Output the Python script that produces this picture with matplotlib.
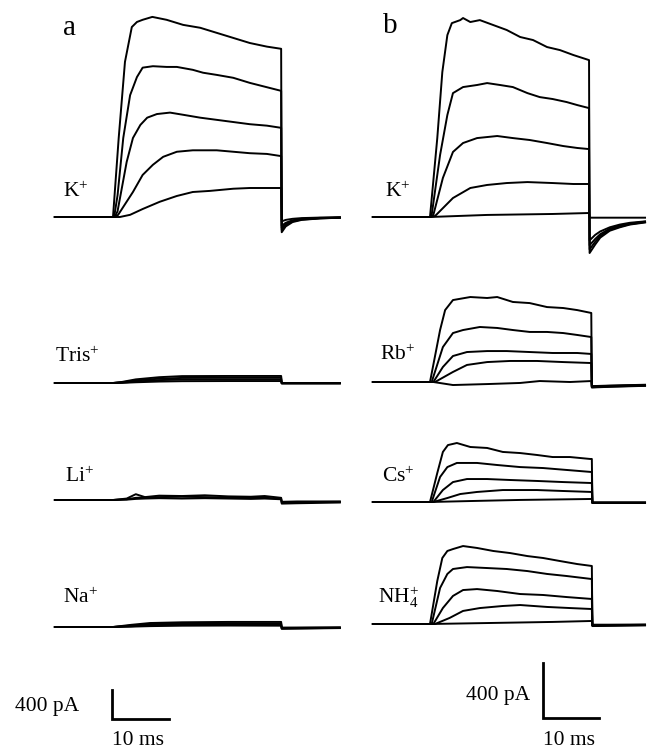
import matplotlib.pyplot as plt

plt.rcParams['font.family'] = ['Liberation Serif', 'DejaVu Serif']
plt.rcParams['mathtext.fontset'] = 'custom'
plt.rcParams['mathtext.rm'] = 'Liberation Serif'
plt.rcParams['mathtext.it'] = 'Liberation Serif:italic'

# ---- data: time (ms, 0 = step onset) and current (pA) ----
# panel a, K+
a_k_t = [
    [-10.2, 0, 1.0, 2.1, 3.3, 4.2, 5.2, 6.9, 9.4, 12.3, 15.3, 18.2, 21.1, 24.0, 27.0, 29.5, 29.6, 30.3, 31.5, 33.1, 36.3, 39.8],
    [-10.2, 0.2, 0.8, 1.8, 3.0, 4.2, 5.2, 7.0, 9.4, 11.2, 14.0, 15.8, 18.2, 21.1, 24.0, 27.0, 29.5, 29.6, 30.3, 31.5, 33.1, 36.3, 39.8],
    [-10.2, 0.3, 0.8, 2.4, 3.5, 4.8, 6.0, 7.7, 10.0, 12.3, 15.3, 18.2, 21.1, 24.0, 27.0, 29.5, 29.6, 30.3, 31.5, 33.1, 36.3, 39.8],
    [-10.2, 0.4, 0.9, 3.5, 5.2, 7.0, 8.8, 11.2, 14.0, 18.2, 21.1, 24.0, 27.0, 29.5, 29.6, 30.3, 31.5, 33.1, 36.3, 39.8],
    [-10.2, 0.5, 1.2, 3.0, 5.2, 8.2, 11.2, 14.0, 17.0, 21.1, 24.0, 27.0, 29.5, 29.6, 30.3, 31.5, 33.1, 36.3, 39.8],
]
a_k_i = [
    [0, 0, 1090, 2140, 2620, 2690, 2720, 2760, 2720, 2650, 2610, 2540, 2470, 2400, 2350, 2320, -210, -130, -70, -40, -20, -10],
    [0, 0, 300, 1090, 1680, 1930, 2060, 2080, 2070, 2070, 2030, 1990, 1960, 1920, 1850, 1790, 1740, -180, -110, -60, -35, -18, -10],
    [0, 0, 80, 760, 1090, 1270, 1370, 1420, 1440, 1410, 1370, 1340, 1310, 1280, 1260, 1230, -150, -95, -55, -30, -15, -8],
    [0, 0, 30, 345, 580, 720, 830, 900, 920, 920, 900, 880, 870, 840, -120, -80, -45, -25, -12, -6],
    [0, 0, 0, 30, 110, 210, 290, 345, 360, 390, 400, 400, 400, -60, -40, -25, -15, -8, -5],
]
# panel a, Tris+
a_tris_t = [[-10.2, 0, 1.6, 4.0, 8.1, 12.1, 20.2, 29.5, 29.6, 39.8]] * 4
a_tris_i = [
    [0, 0, 15, 50, 80, 95, 97, 97, -5, -5],
    [0, 0, 10, 35, 60, 70, 72, 72, -5, -5],
    [0, 0, 5, 20, 40, 48, 50, 50, -3, -3],
    [0, 0, 2, 10, 20, 25, 27, 27, 0, 0],
]
# panel a, Li+
a_li_t = [[-10.2, 0, 2.4, 4.0, 5.6, 8.1, 12.1, 16.1, 20.2, 24.2, 26.6, 29.5, 29.6, 32.3, 39.8]] * 3
a_li_i = [
    [0, 0, 20, 80, 40, 60, 55, 65, 50, 45, 55, 30, -50, -45, -35],
    [0, 0, 10, 30, 35, 40, 45, 40, 35, 40, 30, 20, -35, -30, -25],
    [0, 0, 5, 15, 20, 25, 20, 25, 20, 15, 20, 10, -25, -20, -20],
]
# panel a, Na+
a_na_t = [[-10.2, 0, 3.2, 6.5, 12.1, 20.2, 29.5, 29.6, 39.8]] * 4
a_na_i = [
    [0, 0, 30, 55, 65, 70, 70, -25, -15],
    [0, 0, 20, 40, 50, 52, 50, -20, -12],
    [0, 0, 10, 25, 32, 35, 35, -15, -8],
    [0, 0, 5, 12, 18, 20, 18, -8, -5],
]
# panel b, K+
b_k_t = [
    [-10.2, 0, 1.3, 2.2, 3.1, 3.9, 5.4, 5.9, 7.2, 8.9, 11.3, 13.7, 16.1, 18.4, 20.9, 23.2, 25.6, 28.4, 28.5, 29.5, 30.4, 32.1, 33.9, 35.7, 38.4],
    [-10.2, 0, 0.3, 1.8, 3.1, 4.1, 5.9, 8.4, 10.2, 12.5, 14.8, 17.4, 19.6, 21.9, 24.4, 26.3, 28.4, 28.5, 29.5, 30.4, 32.1, 33.9, 35.7, 38.4],
    [-10.2, 0, 0.6, 2.3, 4.1, 5.9, 8.4, 12.0, 14.8, 17.8, 20.9, 23.8, 26.3, 28.4, 28.5, 29.5, 30.4, 32.1, 33.9, 35.7, 38.4],
    [-10.2, 0, 0.9, 4.1, 7.2, 10.2, 13.7, 17.4, 21.9, 25.6, 28.4, 28.5, 29.5, 30.4, 32.1, 33.9, 35.7, 38.4],
    [-10.2, 0, 10.2, 21.9, 28.4, 28.5, 32.1, 38.4],
]
b_k_i = [
    [0, 0, 574, 1054, 1323, 1410, 1432, 1447, 1418, 1432, 1396, 1360, 1309, 1287, 1236, 1214, 1178, 1141, -262, -200, -150, -100, -75, -55, -40],
    [0, 0, 15, 451, 742, 901, 945, 960, 974, 960, 945, 901, 872, 858, 836, 814, 792, -235, -180, -138, -92, -70, -52, -37],
    [0, 0, 15, 284, 473, 538, 574, 589, 574, 560, 538, 516, 502, 494, -205, -160, -125, -85, -62, -48, -34],
    [0, 0, 7, 138, 211, 233, 247, 254, 247, 240, 240, -170, -130, -105, -75, -55, -42, -32],
    [0, 0, 15, 22, 29, -5, -5, -5],
]
# panel b, Rb+
b_rb_t = [
    [-10.2, 0, 1.8, 2.7, 4.1, 7.2, 10.2, 12.0, 14.8, 17.8, 20.9, 23.8, 26.3, 28.8, 28.9, 32.1, 38.4],
    [-10.2, 0, 0.3, 2.3, 4.1, 5.9, 8.9, 12.0, 14.8, 17.8, 20.9, 23.8, 26.3, 28.8, 28.9, 32.1, 38.4],
    [-10.2, 0, 0.6, 2.3, 4.1, 6.6, 10.2, 13.7, 17.8, 21.9, 26.3, 28.8, 28.9, 32.1, 38.4],
    [-10.2, 0, 0.9, 4.1, 6.6, 10.2, 14.3, 19.1, 23.8, 28.8, 28.9, 32.1, 38.4],
    [-10.2, 0, 0.6, 4.1, 10.2, 16.1, 19.6, 25.0, 28.8, 28.9, 32.1, 38.4],
]
b_rb_i = [
    [0, 0, 378, 523, 596, 618, 611, 618, 582, 574, 545, 538, 523, 502, -40, -35, -28],
    [0, 0, 0, 254, 356, 378, 400, 393, 378, 364, 364, 356, 342, 327, -38, -33, -26],
    [0, 0, 0, 109, 189, 218, 225, 225, 218, 211, 211, 204, -35, -30, -24],
    [0, 0, 0, 73, 124, 145, 153, 153, 145, 138, -32, -28, -22],
    [0, 0, 0, -22, -15, -7, 7, 0, 7, -30, -26, -20],
]
# panel b, Cs+
b_cs_t = [
    [-10.2, 0, 1.3, 2.3, 3.2, 4.8, 7.2, 10.2, 13.0, 16.1, 19.1, 21.9, 25.0, 28.6, 28.9, 29.0, 38.4],
    [-10.2, 0, 0.3, 1.8, 3.1, 4.8, 8.4, 12.0, 16.1, 20.2, 24.4, 28.9, 29.0, 38.4],
    [-10.2, 0, 0.6, 2.3, 4.1, 6.6, 10.2, 14.3, 19.1, 23.8, 28.9, 29.0, 38.4],
    [-10.2, 0, 0.6, 3.1, 5.4, 8.4, 13.0, 19.1, 23.8, 28.9, 29.0, 38.4],
    [-10.2, 0, 7.2, 16.1, 28.9, 29.0, 38.4],
]
b_cs_i = [
    [0, 0, 211, 364, 414, 429, 400, 393, 364, 356, 342, 327, 327, 313, 313, -7, -7],
    [0, 0, 0, 182, 254, 284, 284, 269, 254, 247, 233, 218, -7, -7],
    [0, 0, 0, 87, 145, 167, 167, 160, 153, 145, 138, -5, -5],
    [0, 0, 0, 29, 58, 73, 87, 87, 80, 73, -5, -5],
    [0, 0, 7, 15, 22, -3, -3],
]
# panel b, NH4+
b_nh_t = [
    [-10.2, 0, 1.3, 2.2, 3.1, 4.1, 5.9, 8.4, 11.3, 14.3, 17.4, 20.2, 23.2, 26.3, 28.9, 29.0, 38.4],
    [-10.2, 0, 0.3, 1.8, 3.1, 4.1, 6.6, 10.2, 13.7, 17.4, 20.9, 24.4, 28.9, 29.0, 38.4],
    [-10.2, 0, 0.6, 2.3, 4.1, 5.9, 8.4, 12.0, 16.1, 20.2, 24.4, 28.9, 29.0, 38.4],
    [-10.2, 0, 0.9, 3.5, 5.9, 8.9, 13.0, 16.1, 20.9, 25.0, 28.9, 29.0, 38.4],
    [-10.2, 0, 10.2, 21.9, 28.9, 29.0, 38.4],
]
b_nh_i = [
    [0, 0, 313, 480, 531, 545, 567, 553, 531, 516, 494, 480, 458, 436, 422, -15, -10],
    [0, 0, 0, 262, 364, 400, 414, 407, 400, 385, 364, 349, 327, -12, -8],
    [0, 0, 0, 116, 204, 247, 254, 240, 218, 211, 196, 182, -10, -6],
    [0, 0, 0, 44, 95, 116, 131, 138, 124, 116, 109, -8, -5],
    [0, 0, 7, 15, 22, -5, -5],
]

ion_labels_a = [r'K$^{+}$', r'Tris$^{+}$', r'Li$^{+}$', r'Na$^{+}$']
ion_labels_b = [r'K$^{+}$', r'Rb$^{+}$', r'Cs$^{+}$', r'NH$_4^{+}$']
scale_ms = 10
scale_pA = 400

# ---- layout (pixels of the 651x751 figure) ----
W, H = 651, 751
fig = plt.figure(figsize=(W / 100, H / 100), dpi=100)


def trace_axes(onset_px, base_px, px_per_ms, px_per_pA):
    ax = fig.add_axes([0, 0, 1, 1])
    ax.set_xlim(-onset_px / px_per_ms, (W - onset_px) / px_per_ms)
    ax.set_ylim((base_px - H) / px_per_pA, base_px / px_per_pA)
    ax.axis('off')
    ax.patch.set_alpha(0)
    return ax


def put(x, y, s, size=15.5):
    fig.text(x / W, 1 - y / H, s, fontsize=size, ha='left', va='baseline')


cols = [
    (113, 5.7, 29 / 400, [217, 383, 500, 627],
     [(a_k_t, a_k_i), (a_tris_t, a_tris_i), (a_li_t, a_li_i), (a_na_t, a_na_i)]),
    (430, 5.6, 55 / 400, [217, 382, 502, 624],
     [(b_k_t, b_k_i), (b_rb_t, b_rb_i), (b_cs_t, b_cs_i), (b_nh_t, b_nh_i)]),
]

last_axes = []
for onset, pxms, pxpa, bases, rows in cols:
    for base, (ts, cs) in zip(bases, rows):
        ax = trace_axes(onset, base, pxms, pxpa)
        for t, c in zip(ts, cs):
            ax.plot(t, c, color='black', lw=1.4, solid_joinstyle='round')
    last_axes.append(ax)

# scale bars (corner positions in ms / pA of the bottom row axes)
for ax, (t0, c0) in zip(last_axes, [(-0.2, -1270), (20.2, -684)]):
    ax.plot([t0, t0, t0 + scale_ms], [c0 + scale_pA, c0, c0],
            color='black', lw=2.0, solid_joinstyle='miter')

# labels
put(63, 35, 'a', 21)
put(383, 33, 'b', 21)
for (x, y), s in zip([(63, 197), (55, 362), (65, 482), (63, 603)], ion_labels_a):
    put(x, y, s)
for (x, y), s in zip([(385, 197), (380, 360), (382, 482), (378, 603)], ion_labels_b):
    put(x, y, s)
put(15, 711, '400 pA')
put(112, 745, '10 ms')
put(466, 700, '400 pA')
put(543, 745, '10 ms')

fig.savefig('out.png', dpi=100)
